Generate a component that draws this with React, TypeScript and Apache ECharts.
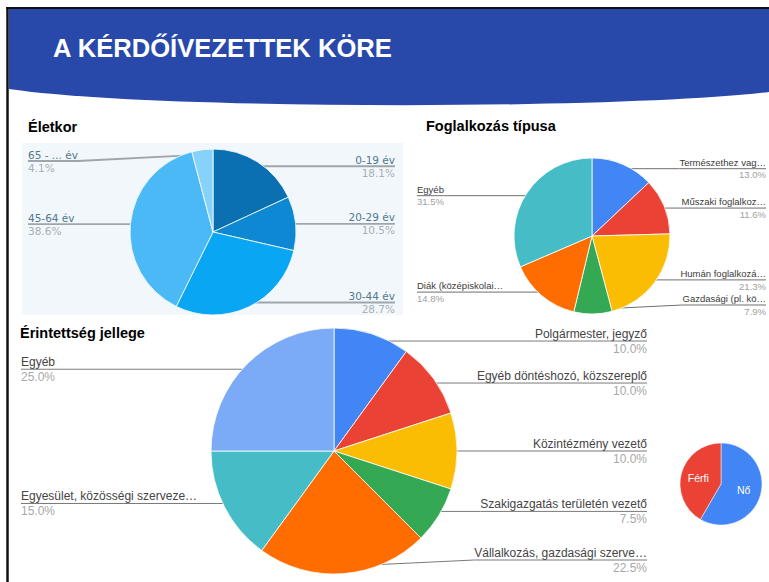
import React, { useEffect, useRef } from "react";
import * as echarts from "echarts";

// ---- data ----
const ageNames = ["0-19 év", "20-29 év", "30-44 év", "45-64 év", "65 - ... év"];
const ageValues = [18.1, 10.5, 28.7, 38.6, 4.1];
const ageColors = ["#0b70b2", "#0d88d3", "#08a6f3", "#4ab9f6", "#86d2fa"];

const jobNames = [
  "Természethez vag…",
  "Műszaki foglalkoz…",
  "Humán foglalkozá…",
  "Gazdasági (pl. kö…",
  "Diák (középiskolai…",
  "Egyéb",
];
const jobValues = [13.0, 11.6, 21.3, 7.9, 14.8, 31.5];
const jobColors = ["#4285f4", "#ea4335", "#fbbc04", "#34a853", "#ff6d01", "#46bdc6"];

const roleNames = [
  "Polgármester, jegyző",
  "Egyéb döntéshozó, közszereplő",
  "Közintézmény vezető",
  "Szakigazgatás területén vezető",
  "Vállalkozás, gazdasági szerve…",
  "Egyesület, közösségi szerveze…",
  "Egyéb",
];
const roleValues = [10.0, 10.0, 10.0, 7.5, 22.5, 15.0, 25.0];
const roleColors = ["#4285f4", "#ea4335", "#fbbc04", "#34a853", "#ff6d01", "#46bdc6", "#7baaf7"];

const genderNames = ["Nő", "Férfi"];
const genderValues = [58.4, 41.6];
const genderColors = ["#4285f4", "#ea4335"];

const pageTitle = "A KÉRDŐÍVEZETTEK KÖRE";
const chartTitles = ["Életkor", "Foglalkozás típusa", "Érintettség jellege"];

echarts.graphic.registerShape(
  "hdrShape",
  echarts.graphic.extendPath("M9 9 L769 9 L769 92 C620 110 150 110 9 89 Z", {})
);

type Cfg = {
  center: [number, number];
  r: number;
  k: number;
  left: number;
  right: number;
  minY: number;
  maxY: number;
};

function makeLayout(values: number[], cfg: Cfg) {
  const total = values.reduce((a, b) => a + b, 0);
  return (p: any) => {
    const i = p.dataIndex;
    let cum = 0;
    for (let k = 0; k < i; k++) cum += values[k];
    const ang = ((cum + values[i] / 2) / total) * 2 * Math.PI;
    const ax = cfg.center[0] + cfg.k * cfg.r * Math.sin(ang);
    const ay = cfg.center[1] - cfg.k * cfg.r * Math.cos(ang);
    const rightSide = ang < Math.PI;
    const y = Math.min(cfg.maxY, Math.max(cfg.minY, ay));
    const w = p.labelRect ? p.labelRect.width : 0;
    const outer = rightSide ? cfg.right : cfg.left;
    const inner = rightSide ? outer - w : outer + w;
    return {
      x: outer,
      y,
      align: rightSide ? "right" : "left",
      verticalAlign: "middle",
      labelLinePoints: [
        [ax, ay],
        [inner, y],
        [outer, y],
      ],
    };
  };
}

function labelledPie(
  names: string[],
  values: number[],
  colors: string[],
  cfg: Cfg,
  font: { family: string; size: number; lh: number; name: string; pct: string },
  line: { color: string; width: number }
) {
  return {
    type: "pie",
    center: cfg.center,
    radius: cfg.r,
    startAngle: 90,
    clockwise: true,
    avoidLabelOverlap: false,
    itemStyle: { borderColor: "#ffffff", borderWidth: 0.8 },
    label: {
      show: true,
      position: "outside",
      formatter: (p: any) => `{n|${p.name}}\n{p|${Number(p.value).toFixed(1)}%}`,
      rich: {
        n: { fontFamily: font.family, fontSize: font.size, lineHeight: font.lh, color: font.name },
        p: { fontFamily: font.family, fontSize: font.size, lineHeight: font.lh, color: font.pct },
      },
    },
    labelLine: { show: true, length: 4, length2: 4, smooth: false, lineStyle: line },
    labelLayout: makeLayout(values, cfg),
    emphasis: { disabled: true },
    data: names.map((n, i) => ({ name: n, value: values[i], itemStyle: { color: colors[i] } })),
  };
}

export default function App() {
  const ref = useRef<HTMLDivElement>(null);
  useEffect(() => {
    if (!ref.current) return;
    const chart = echarts.init(ref.current, undefined, { renderer: "svg" });
    const titleFont = "bold 14.5px 'Liberation Sans', Arial, sans-serif";
    chart.setOption({
      animation: false,
      backgroundColor: "#ffffff",
      graphic: [
        { type: "hdrShape", x: 0, y: 0, z: 0, style: { fill: "#2849aa" } },
        { type: "line", z: 1, shape: { x1: 6, y1: 8, x2: 769, y2: 8 }, style: { stroke: "#111", lineWidth: 2 } },
        { type: "line", z: 1, shape: { x1: 7.5, y1: 7, x2: 7.5, y2: 582 }, style: { stroke: "#111", lineWidth: 2.5 } },
        {
          type: "text",
          z: 2,
          x: 53,
          y: 48,
          style: {
            text: pageTitle,
            font: "bold 25.6px 'Liberation Sans', Arial, sans-serif",
            fill: "#ffffff",
            textAlign: "left",
            textVerticalAlign: "middle",
            align: "left",
            verticalAlign: "middle",
          },
        },
        { type: "rect", z: 0, shape: { x: 22, y: 143, width: 381, height: 172 }, style: { fill: "#f2f7fc" } },
        {
          type: "text",
          z: 2,
          x: 28,
          y: 127,
          style: { text: chartTitles[0], font: titleFont, fill: "#000", textVerticalAlign: "middle", verticalAlign: "middle" },
        },
        {
          type: "text",
          z: 2,
          x: 426,
          y: 126,
          style: { text: chartTitles[1], font: titleFont, fill: "#000", textVerticalAlign: "middle", verticalAlign: "middle" },
        },
        {
          type: "text",
          z: 2,
          x: 20,
          y: 333,
          style: { text: chartTitles[2], font: titleFont, fill: "#000", textVerticalAlign: "middle", verticalAlign: "middle" },
        },
      ],
      series: [
        labelledPie(
          ageNames,
          ageValues,
          ageColors,
          { center: [213, 232], r: 83, k: 0.94, left: 28, right: 395, minY: 161, maxY: 303 },
          { family: "'DejaVu Sans', Verdana, sans-serif", size: 10.5, lh: 13, name: "#54788b", pct: "#a6afb5" },
          { color: "#9ea6ac", width: 1.8 }
        ),
        labelledPie(
          jobNames,
          jobValues,
          jobColors,
          { center: [592, 236], r: 78, k: 0.94, left: 417, right: 766, minY: 150, maxY: 305 },
          { family: "'Liberation Sans', Arial, sans-serif", size: 9.5, lh: 12.5, name: "#3a3a3a", pct: "#a0a0a0" },
          { color: "#6f6f6f", width: 1 }
        ),
        labelledPie(
          roleNames,
          roleValues,
          roleColors,
          { center: [334, 451], r: 123, k: 0.94, left: 21, right: 647, minY: 330, maxY: 560 },
          { family: "'Liberation Sans', Arial, sans-serif", size: 12, lh: 15, name: "#444444", pct: "#a8a8a8" },
          { color: "#7a7a7a", width: 1 }
        ),
        {
          type: "pie",
          center: [721, 484],
          radius: 41,
          startAngle: 90,
          clockwise: true,
          itemStyle: { borderColor: "#ffffff", borderWidth: 0.5 },
          label: {
            show: true,
            position: "inside",
            formatter: "{b}",
            color: "#ffffff",
            fontFamily: "'Liberation Sans', Arial, sans-serif",
            fontSize: 10.5,
          },
          labelLine: { show: false },
          emphasis: { disabled: true },
          data: genderNames.map((n, i) => ({ name: n, value: genderValues[i], itemStyle: { color: genderColors[i] } })),
        },
      ],
    });
    return () => chart.dispose();
  }, []);
  return (
    <div
      ref={ref}
      style={{ position: "fixed", left: 0, top: 0, width: 769, height: 582 }}
    />
  );
}
